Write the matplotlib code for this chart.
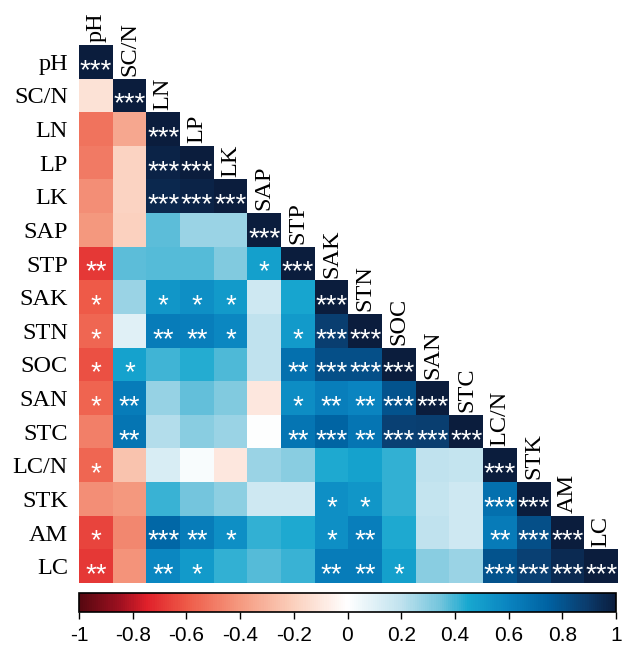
import numpy as np
import matplotlib
matplotlib.use("Agg")
import matplotlib.pyplot as plt
from matplotlib.colors import LinearSegmentedColormap

labels = ["pH", "SC/N", "LN", "LP", "LK", "SAP", "STP", "SAK", "STN", "SOC",
          "SAN", "STC", "LC/N", "STK", "AM", "LC"]

# lower-triangle correlations (row i, columns 0..i-1); diagonal = 1
r_pH = []
r_SCN = [-0.12]
r_LN = [-0.52, -0.35]
r_LP = [-0.50, -0.18, 0.97]
r_LK = [-0.43, -0.18, 0.96, 0.97]
r_SAP = [-0.40, -0.19, 0.37, 0.27, 0.27]
r_STP = [-0.68, 0.37, 0.38, 0.38, 0.32, 0.48]
r_SAK = [-0.60, 0.27, 0.52, 0.55, 0.50, 0.15, 0.46]
r_STN = [-0.56, 0.10, 0.63, 0.62, 0.58, 0.20, 0.50, 0.88]
r_SOC = [-0.62, 0.47, 0.40, 0.43, 0.39, 0.20, 0.68, 0.82, 0.82]
r_SAN = [-0.57, 0.63, 0.28, 0.36, 0.32, -0.10, 0.56, 0.62, 0.60, 0.80]
r_STC = [-0.48, 0.66, 0.22, 0.30, 0.27, 0.00, 0.66, 0.74, 0.66, 0.87, 0.88]
r_LCN = [-0.56, -0.25, 0.12, 0.02, -0.10, 0.27, 0.30, 0.44, 0.47, 0.42, 0.20, 0.18]
r_STK = [-0.43, -0.40, 0.41, 0.34, 0.29, 0.15, 0.15, 0.55, 0.52, 0.42, 0.18, 0.15, 0.68]
r_AM = [-0.65, -0.46, 0.72, 0.63, 0.55, 0.42, 0.44, 0.55, 0.62, 0.44, 0.20, 0.15, 0.64, 0.82]
r_LC = [-0.68, -0.42, 0.58, 0.50, 0.42, 0.38, 0.41, 0.63, 0.63, 0.48, 0.30, 0.27, 0.80, 0.87, 0.95]

rows = [r_pH, r_SCN, r_LN, r_LP, r_LK, r_SAP, r_STP, r_SAK, r_STN, r_SOC,
        r_SAN, r_STC, r_LCN, r_STK, r_AM, r_LC]

# significance marks (row i, columns 0..i, including diagonal)
s_pH = ["***"]
s_SCN = ["", "***"]
s_LN = ["", "", "***"]
s_LP = ["", "", "***", "***"]
s_LK = ["", "", "***", "***", "***"]
s_SAP = ["", "", "", "", "", "***"]
s_STP = ["**", "", "", "", "", "*", "***"]
s_SAK = ["*", "", "*", "*", "*", "", "", "***"]
s_STN = ["*", "", "**", "**", "*", "", "*", "***", "***"]
s_SOC = ["*", "*", "", "", "", "", "**", "***", "***", "***"]
s_SAN = ["*", "**", "", "", "", "", "*", "**", "**", "***", "***"]
s_STC = ["", "**", "", "", "", "", "**", "***", "**", "***", "***", "***"]
s_LCN = ["*", "", "", "", "", "", "", "", "", "", "", "", "***"]
s_STK = ["", "", "", "", "", "", "", "*", "*", "", "", "", "***", "***"]
s_AM = ["*", "", "***", "**", "*", "", "", "*", "**", "", "", "", "**", "***", "***"]
s_LC = ["**", "", "**", "*", "", "", "", "**", "**", "*", "", "", "***", "***", "***", "***"]

stars = [s_pH, s_SCN, s_LN, s_LP, s_LK, s_SAP, s_STP, s_SAK, s_STN, s_SOC,
         s_SAN, s_STC, s_LCN, s_STK, s_AM, s_LC]

cbar_ticks = [-1, -0.8, -0.6, -0.4, -0.2, 0, 0.2, 0.4, 0.6, 0.8, 1]
cbar_ticklabels = ["-1", "-0.8", "-0.6", "-0.4", "-0.2", "0", "0.2", "0.4", "0.6", "0.8", "1"]

n = len(labels)
M = np.full((n, n), np.nan)
for i, r in enumerate(rows):
    for j, v in enumerate(r):
        M[i, j] = v
    M[i, i] = 1.0

stops = [(-1.0, "#560810"), (-0.85, "#9e1020"), (-0.75, "#e0202a"),
         (-0.6, "#ee5a48"), (-0.4, "#f59a80"), (-0.2, "#fbd0bd"),
         (0.0, "#ffffff"), (0.2, "#c0e2ee"), (0.35, "#70c4dc"),
         (0.45, "#18a8d0"), (0.6, "#0a84c0"), (0.75, "#0062a2"),
         (0.9, "#0b3a6a"), (1.0, "#0b1d3d")]
cmap = LinearSegmentedColormap.from_list(
    "corr", [((v + 1) / 2, c) for v, c in stops], N=256)
cmap.set_bad("white")

fig = plt.figure(figsize=(6.27, 6.46), dpi=100)
W, H = 627, 646
ax = fig.add_axes([79 / W, 1 - 583 / H, 539 / W, 538 / H])
im = ax.imshow(np.ma.masked_invalid(M), cmap=cmap, vmin=-1, vmax=1,
               extent=(0, n, n, 0), interpolation="nearest", aspect="auto")
ax.set_xlim(0, n)
ax.set_ylim(n, 0)
for s in ax.spines.values():
    s.set_visible(False)
ax.set_xticks([])
ax.set_yticks(np.arange(n) + 0.5)
ax.set_yticklabels(labels, family="Liberation Serif", fontsize=17.5)
ax.tick_params(axis="y", length=0, pad=8)

for i in range(n):
    ax.text(i + 0.5, i - 0.08, labels[i], rotation=90, ha="center", va="bottom",
            family="Liberation Serif", fontsize=17.5, color="black")
    for j, s in enumerate(stars[i]):
        if s:
            ax.text(j + 0.5, i + 0.98, s, ha="center", va="baseline",
                    family="Liberation Sans", fontsize=20, color="white")

cax = fig.add_axes([79 / W, 1 - 612 / H, 537 / W, 19 / H])
cb = fig.colorbar(im, cax=cax, orientation="horizontal", ticks=cbar_ticks)
cb.set_ticklabels(cbar_ticklabels)
cb.outline.set_linewidth(1.2)
cax.tick_params(axis="x", length=5, width=1, direction="out", pad=5,
                labelsize=15)
for t in cax.get_xticklabels():
    t.set_family("Liberation Sans")

fig.savefig("out.png", dpi=100)
